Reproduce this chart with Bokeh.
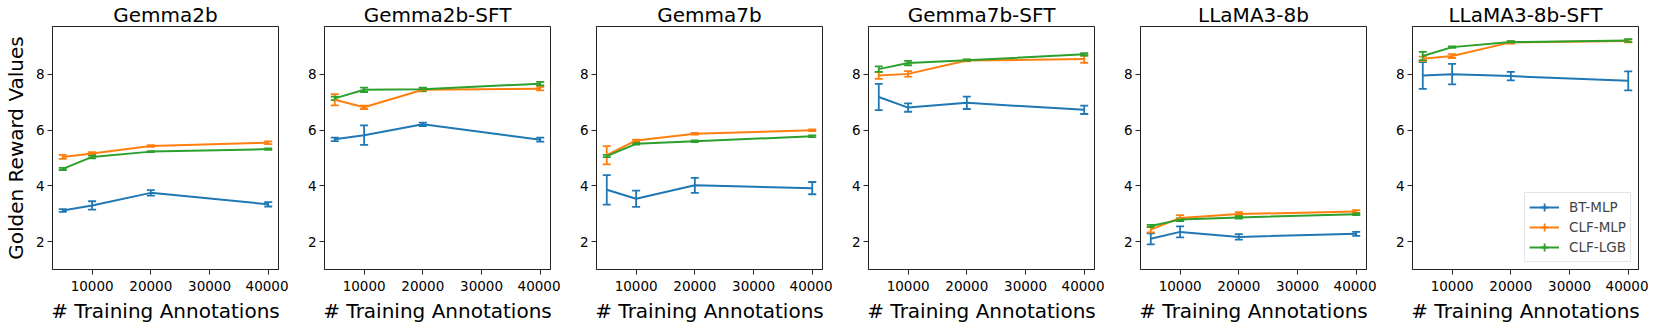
from bokeh.plotting import figure
from bokeh.layouts import row
from bokeh.models import ColumnDataSource, Whisker, TeeHead, FixedTicker, Range1d, Legend, LegendItem
from bokeh.embed import file_html
from bokeh.resources import INLINE

# ---------------- data ----------------
annotations = [5000, 10000, 20000, 40000]
models = ["Gemma2b", "Gemma2b-SFT", "Gemma7b", "Gemma7b-SFT", "LLaMA3-8b", "LLaMA3-8b-SFT"]
methods = ["BT-MLP", "CLF-MLP", "CLF-LGB"]

bt_mlp_mean = [
    [3.12, 3.30, 3.75, 3.34],
    [5.67, 5.82, 6.21, 5.66],
    [3.86, 3.54, 4.02, 3.92],
    [7.19, 6.81, 6.98, 6.73],
    [2.10, 2.35, 2.17, 2.28],
    [7.96, 8.01, 7.94, 7.77],
]
bt_mlp_err = [
    [0.05, 0.15, 0.10, 0.08],
    [0.06, 0.35, 0.06, 0.07],
    [0.53, 0.29, 0.27, 0.22],
    [0.47, 0.15, 0.22, 0.15],
    [0.20, 0.20, 0.10, 0.07],
    [0.48, 0.37, 0.15, 0.34],
]
clf_mlp_mean = [
    [5.04, 5.16, 5.43, 5.55],
    [7.09, 6.82, 7.45, 7.49],
    [5.10, 5.63, 5.87, 6.00],
    [7.96, 8.02, 8.50, 8.55],
    [2.43, 2.85, 2.99, 3.08],
    [8.56, 8.66, 9.15, 9.20],
]
clf_mlp_err = [
    [0.07, 0.05, 0.03, 0.05],
    [0.20, 0.06, 0.06, 0.06],
    [0.33, 0.03, 0.03, 0.03],
    [0.12, 0.10, 0.03, 0.13],
    [0.10, 0.10, 0.07, 0.05],
    [0.08, 0.07, 0.04, 0.05],
]
clf_lgb_mean = [
    [4.61, 5.04, 5.23, 5.32],
    [7.14, 7.45, 7.47, 7.67],
    [5.07, 5.51, 5.60, 5.78],
    [8.19, 8.41, 8.51, 8.72],
    [2.56, 2.79, 2.87, 2.98],
    [8.66, 8.98, 9.16, 9.22],
]
clf_lgb_err = [
    [0.04, 0.05, 0.02, 0.03],
    [0.06, 0.08, 0.06, 0.06],
    [0.04, 0.03, 0.03, 0.03],
    [0.10, 0.08, 0.03, 0.04],
    [0.04, 0.05, 0.04, 0.03],
    [0.15, 0.03, 0.03, 0.05],
]

x_ticks = [10000, 20000, 30000, 40000]
y_ticks = [2, 4, 6, 8]

means = [bt_mlp_mean, clf_mlp_mean, clf_lgb_mean]
errs = [bt_mlp_err, clf_mlp_err, clf_lgb_err]
colors = ["#1f77b4", "#ff7f0e", "#2ca02c"]

FONT = "DejaVu Sans"
figs = []
for i, model in enumerate(models):
    first = i == 0
    last = i == len(models) - 1
    p = figure(
        frame_width=226, frame_height=243,
        x_range=Range1d(3250, 41750), y_range=Range1d(1.0, 9.72),
        output_backend="svg", toolbar_location=None,
        min_border_left=45 if first else 36, min_border_right=10,
        min_border_top=24, min_border_bottom=50,
        title=model,
    )
    p.title.align = "center"
    p.title.text_font = FONT
    p.title.text_font_size = "20px"
    p.title.text_font_style = "normal"
    p.title.text_color = "black"
    p.title.standoff = 0
    p.xgrid.visible = False
    p.ygrid.visible = False
    p.outline_line_color = "#222222"
    p.outline_line_width = 1
    p.background_fill_color = "white"
    p.border_fill_color = "white"

    for ax in (p.xaxis, p.yaxis):
        ax.axis_line_color = "#222222"
        ax.major_tick_line_color = "#222222"
        ax.major_tick_out = 5
        ax.major_tick_in = 0
        ax.minor_tick_line_color = None
        ax.major_label_text_font = FONT
        ax.major_label_text_font_size = "13.5px"
        ax.major_label_text_color = "black"
        ax.major_label_standoff = 3
        ax.axis_label_text_font = FONT
        ax.axis_label_text_font_size = "20px"
        ax.axis_label_text_font_style = "normal"
        ax.axis_label_text_color = "black"
    p.xaxis.ticker = FixedTicker(ticks=x_ticks)
    p.yaxis.ticker = FixedTicker(ticks=y_ticks)
    p.xaxis.major_label_standoff = 6
    p.xaxis.axis_label = "# Training Annotations"
    p.xaxis.axis_label_standoff = 5
    if first:
        p.yaxis.axis_label = "Golden Reward Values"
        p.yaxis.axis_label_standoff = 5

    items = []
    for m, name in enumerate(methods):
        mean = means[m][i]
        err = errs[m][i]
        src = ColumnDataSource(dict(
            x=annotations, y=mean,
            lo=[a - b for a, b in zip(mean, err)],
            hi=[a + b for a, b in zip(mean, err)],
        ))
        r = p.line("x", "y", source=src, line_color=colors[m], line_width=2)
        w = Whisker(base="x", upper="hi", lower="lo", source=src,
                    line_color=colors[m], line_width=1.8,
                    upper_head=TeeHead(size=8, line_color=colors[m], line_width=1.8),
                    lower_head=TeeHead(size=8, line_color=colors[m], line_width=1.8))
        p.add_layout(w)
        # zero-size marker used only so the legend shows an error-bar tick
        mk = p.scatter("x", "y", source=src, marker="cross", size=0,
                       line_color=colors[m], line_width=1.8)
        items.append(LegendItem(label=name, renderers=[r, mk]))

    if last:
        leg = Legend(items=items, location="bottom_right")
        leg.label_text_font = FONT
        leg.label_text_font_size = "13.5px"
        leg.glyph_width = 30
        leg.glyph_height = 20
        leg.label_standoff = 10
        leg.spacing = 0
        leg.padding = 4
        leg.margin = 7
        leg.border_line_color = "#cccccc"
        leg.border_line_width = 1
        leg.background_fill_alpha = 0.8
        p.add_layout(leg)

    figs.append(p)

layout = row(*figs, spacing=0)
open("out.html", "w").write(file_html(layout, INLINE))
